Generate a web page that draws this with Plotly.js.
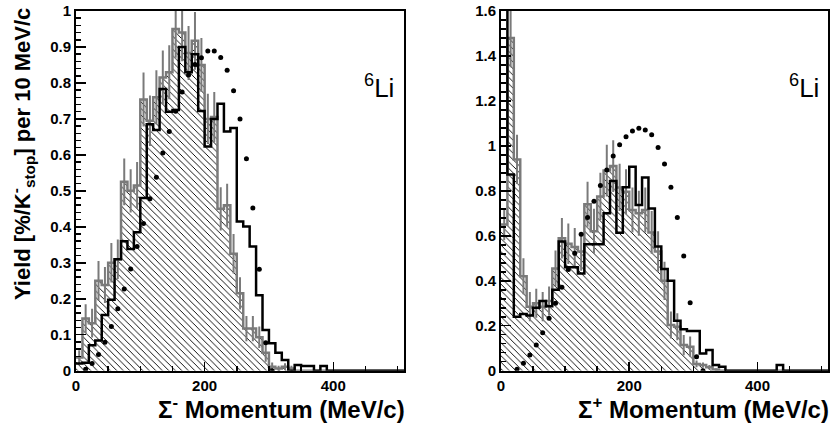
<!DOCTYPE html>
<html><head><meta charset="utf-8">
<script src="https://cdn.plot.ly/plotly-3.0.1.min.js"></script>
<style>html,body{margin:0;padding:0;background:#fff;}</style>
</head><body><div id="chart" style="width:830px;height:427px;"></div>
<script>
// ---- data (10 MeV/c bins from 0 to 510 MeV/c) ----
const binWidth = 10;
const nBins = 51;

// Sigma- panel
const leftBlack = [0.02, 0.022, 0.071, 0.084, 0.155, 0.197, 0.31, 0.36, 0.338, 0.385,
  0.48, 0.685, 0.669, 0.783, 0.72, 0.725, 0.90, 0.83, 0.88, 0.722,
  0.623, 0.70, 0.742, 0.665, 0.675, 0.415, 0.401, 0.345, 0.21, 0.113,
  0.076, 0.05, 0.03, 0.0, 0.016, 0.013, 0.013, 0.0, 0.013, 0,
  0, 0, 0, 0, 0, 0, 0, 0, 0, 0, 0];
const leftGray = [0.037, 0.145, 0.132, 0.25, 0.238, 0.30, 0.31, 0.525, 0.50, 0.515,
  0.754, 0.695, 0.76, 0.815, 0.83, 0.95, 0.94, 0.883, 0.917, 0.85,
  0.70, 0.705, 0.45, 0.46, 0.325, 0.215, 0.117, 0.117, 0.093, 0.05,
  0.011, 0.006, 0.011, 0.006, 0, 0, 0, 0, 0, 0,
  0, 0, 0, 0, 0, 0, 0, 0, 0, 0, 0];
const leftGrayErr = [0.02, 0.04, 0.04, 0.055, 0.05, 0.055, 0.055, 0.065, 0.06, 0.065,
  0.075, 0.07, 0.075, 0.075, 0.075, 0.08, 0.08, 0.075, 0.08, 0.075,
  0.07, 0.07, 0.06, 0.06, 0.055, 0.045, 0.035, 0.035, 0.03, 0.025,
  0.012, 0.008, 0.01, 0.008, 0, 0, 0, 0, 0, 0,
  0, 0, 0, 0, 0, 0, 0, 0, 0, 0, 0];
const leftDotX = [15, 25, 35, 45, 55, 65, 75, 85, 95, 105, 115, 125, 135, 145, 155,
  165, 175, 185, 195, 205, 215, 225, 235, 245, 255, 265, 275, 285, 295, 305];
const leftDotY = [0.004, 0.02, 0.045, 0.079, 0.123, 0.172, 0.227, 0.283, 0.345, 0.409,
  0.478, 0.538, 0.605, 0.665, 0.721, 0.775, 0.822, 0.851, 0.870, 0.889,
  0.889, 0.871, 0.835, 0.778, 0.70, 0.589, 0.452, 0.282, 0.078, 0.0];

// Sigma+ panel
const rightBlack = [2.0, 0.873, 0.24, 0.252, 0.246, 0.28, 0.31, 0.287, 0.36, 0.575,
  0.46, 0.46, 0.432, 0.562, 0.562, 0.562, 0.70, 0.844, 0.614, 0.816,
  0.907, 0.737, 0.859, 0.722, 0.552, 0.452, 0.40, 0.222, 0.184, 0.177,
  0.177, 0.077, 0.092, 0.025, 0.018, 0, 0, 0, 0, 0,
  0, 0, 0, 0.025, 0, 0, 0, 0, 0, 0, 0];
const rightGray = [0.65, 1.48, 0.94, 0.42, 0.285, 0.30, 0.285, 0.31, 0.455, 0.589,
  0.565, 0.55, 0.53, 0.74, 0.62, 0.775, 0.89, 0.91, 0.815, 0.796,
  0.715, 0.70, 0.715, 0.615, 0.53, 0.40, 0.203, 0.196, 0.114, 0.107,
  0.03, 0.025, 0.015, 0.005, 0, 0, 0, 0, 0, 0,
  0, 0, 0, 0, 0, 0, 0, 0, 0, 0, 0];
const rightGrayErr = [0.07, 0.13, 0.11, 0.08, 0.065, 0.065, 0.065, 0.065, 0.08, 0.09,
  0.09, 0.085, 0.085, 0.10, 0.10, 0.105, 0.115, 0.115, 0.105, 0.10,
  0.10, 0.10, 0.10, 0.095, 0.09, 0.085, 0.06, 0.06, 0.045, 0.045,
  0.015, 0.012, 0.01, 0.005, 0, 0, 0, 0, 0, 0,
  0, 0, 0, 0, 0, 0, 0, 0, 0, 0, 0];
const rightDotX = [25, 35, 45, 55, 65, 75, 85, 95, 105, 115, 125, 135, 145, 155, 165,
  175, 185, 195, 205, 215, 225, 235, 245, 255, 265, 275, 285, 295, 305, 315];
const rightDotY = [0.007, 0.033, 0.07, 0.114, 0.169, 0.233, 0.30, 0.371, 0.45, 0.522,
  0.607, 0.682, 0.754, 0.824, 0.893, 0.955, 1.005, 1.041, 1.066, 1.078,
  1.071, 1.05, 0.993, 0.919, 0.816, 0.682, 0.51, 0.302, 0.062, 0.0];

const xTitleLeft = 'Σ<sup>-</sup> Momentum (MeV/c)';
const xTitleRight = 'Σ<sup>+</sup> Momentum (MeV/c)';
const yTitle = 'Yield [%/K<sup>-</sup><sub>stop</sub>] per 10 MeV/c';
const nucleusLabel = '<sup>6</sup>Li';

// ---- build ----
const edges = Array.from({length: nBins + 1}, (_, i) => i * binWidth);
const centers = Array.from({length: nBins}, (_, i) => i * binWidth + binWidth / 2);
const stepY = v => v.concat([v[v.length - 1]]);
const GRAY = '#7a7a7a';
const FONT = 'Liberation Sans, Arial, Helvetica, sans-serif';

function panel(gray, grayErr, black, dotX, dotY, xa, ya) {
  return [
    { x: edges, y: stepY(gray), xaxis: xa, yaxis: ya, mode: 'lines',
      line: {shape: 'hv', color: GRAY, width: 2.5},
      fill: 'tozeroy', fillcolor: 'rgba(0,0,0,0)',
      fillpattern: {shape: '\\', size: 4.6, solidity: 0.2, fgcolor: '#000', bgcolor: 'rgba(0,0,0,0)', fillmode: 'replace'},
      hoverinfo: 'skip' },
    { x: centers, y: gray, xaxis: xa, yaxis: ya, mode: 'markers',
      marker: {size: 1, color: 'rgba(0,0,0,0)'},
      error_y: {type: 'data', array: grayErr, visible: true, color: GRAY, thickness: 2, width: 0},
      hoverinfo: 'skip' },
    { x: edges, y: stepY(black), xaxis: xa, yaxis: ya, mode: 'lines',
      line: {shape: 'hv', color: '#000', width: 2.5}, hoverinfo: 'skip' },
    { x: dotX, y: dotY, xaxis: xa, yaxis: ya, mode: 'markers',
      marker: {size: 5, color: '#000'}, hoverinfo: 'skip' }
  ];
}

const data = panel(leftGray, leftGrayErr, leftBlack, leftDotX, leftDotY, 'x', 'y')
  .concat(panel(rightGray, rightGrayErr, rightBlack, rightDotX, rightDotY, 'x2', 'y2'));

const tickFont = {family: FONT, size: 15, color: '#000', weight: 'bold'};
function xAxis(domain, anchor) {
  return { domain: domain, anchor: anchor, range: [0, 510], dtick: 200, tick0: 0,
    ticks: 'inside', ticklen: 9, tickwidth: 1.5, tickcolor: '#000',
    minor: {dtick: 50, ticklen: 5, tickwidth: 1.5, tickcolor: '#000', ticks: 'inside'},
    showline: true, linecolor: '#000', linewidth: 2, mirror: true,
    showgrid: false, zeroline: false, tickfont: tickFont };
}
function yAxis(range, dt, mdt, anchor) {
  return { domain: [1 - 370.7 / 427, 1 - 11 / 427], anchor: anchor, range: range, dtick: dt, tick0: 0,
    ticks: 'inside', ticklen: 10, tickwidth: 1.5, tickcolor: '#000',
    minor: {dtick: mdt, ticklen: 5, tickwidth: 1.5, tickcolor: '#000', ticks: 'inside'},
    showline: true, linecolor: '#000', linewidth: 2, mirror: true,
    showgrid: false, zeroline: false, tickfont: tickFont };
}

const titleFont = {family: FONT, size: 24, color: '#000', weight: 'bold'};
const yTitleFont = {family: FONT, size: 22, color: '#000', weight: 'bold'};
const labelFont = {family: FONT, size: 26, color: '#000'};

const layout = {
  width: 830, height: 427, autosize: false,
  margin: {l: 0, r: 0, t: 0, b: 0},
  paper_bgcolor: '#fff', plot_bgcolor: '#fff',
  showlegend: false,
  xaxis: xAxis([76 / 830, 404 / 830], 'y'),
  yaxis: yAxis([0, 1], 0.1, 0.02, 'x'),
  xaxis2: xAxis([501 / 830, 828 / 830], 'y2'),
  yaxis2: yAxis([0, 1.6], 0.2, 0.04, 'x2'),
  annotations: [
    {text: xTitleLeft, xref: 'paper', yref: 'paper', x: 406 / 830, y: 1 - 408 / 427,
     xanchor: 'right', yanchor: 'middle', showarrow: false, font: titleFont, borderpad: 0},
    {text: xTitleRight, xref: 'paper', yref: 'paper', x: 830 / 830, y: 1 - 408 / 427,
     xanchor: 'right', yanchor: 'middle', showarrow: false, font: titleFont, borderpad: 0},
    {text: yTitle, xref: 'paper', yref: 'paper', x: 22 / 830, y: 1 - 7 / 427, textangle: -90,
     xanchor: 'center', yanchor: 'top', showarrow: false, font: yTitleFont, borderpad: 0},
    {text: nucleusLabel, xref: 'paper', yref: 'paper', x: 396 / 830, y: 1 - 86 / 427,
     xanchor: 'right', yanchor: 'middle', showarrow: false, font: labelFont},
    {text: nucleusLabel, xref: 'paper', yref: 'paper', x: 821 / 830, y: 1 - 86 / 427,
     xanchor: 'right', yanchor: 'middle', showarrow: false, font: labelFont}
  ]
};

Plotly.newPlot('chart', data, layout, {staticPlot: true, displayModeBar: false});
</script>
</body></html>
